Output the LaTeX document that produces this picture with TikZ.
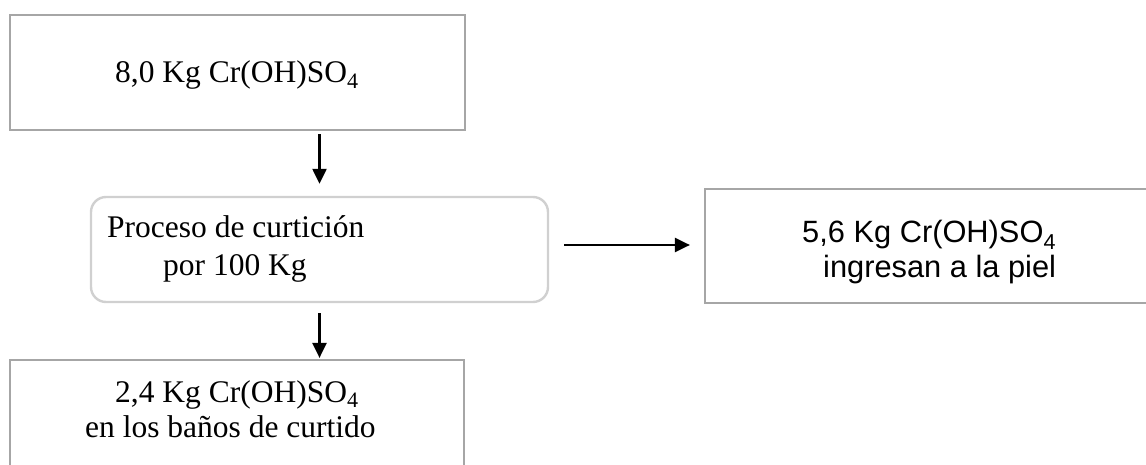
\documentclass[tikz,border=0pt]{standalone}
\usepackage{fontspec}
\setmainfont{Liberation Serif}
\newfontfamily\arialfont{Liberation Sans}
\usetikzlibrary{arrows.meta}
\definecolor{boxgray}{HTML}{A6A6A6}
\definecolor{softgray}{HTML}{D0D0D0}
\begin{document}
\begin{tikzpicture}[x=1pt,y=-1pt,
  plainbox/.style={draw=boxgray, line width=2.2pt, minimum width=#1, inner sep=0pt},
  roundbox/.style={draw=softgray, line width=2.4pt, rounded corners=15pt, minimum width=457pt, minimum height=105pt, inner sep=0pt},
  serif/.style={font=\fontsize{31.5}{36}\selectfont, inner sep=0pt},
  sans/.style={font=\arialfont\fontsize{30.8}{35}\selectfont, inner sep=0pt},
  flow/.style={line width=2.4pt, -{Triangle[length=15pt,width=14pt]}}
]
\useasboundingbox (0,0) rectangle (1146,465);
\begin{scope}
\clip (0,0) rectangle (1146,465);

% boxes
\node[plainbox=455pt, minimum height=115pt] (dose) at (237.5,72.5) {};
\node[roundbox] (proc) at (319.5,249.5) {};
\node[plainbox=455pt, minimum height=114pt] (skin) at (932.5,246) {};
\node[plainbox=454pt, minimum height=115pt] (bath) at (237,417.5) {};

% texts
\node[serif, anchor=base west] (doseA) at (115,83) {8,0 Kg Cr(OH)SO\textsubscript{4}};
\node[serif, anchor=base west] (procA) at (107,237) {Proceso de curtición};
\node[serif, anchor=base west] (procB) at (163,275) {por 100 Kg};
\node[sans, anchor=base west] (skinA) at (802,243) {5,6 Kg Cr(OH)SO\textsubscript{4}};
\node[sans, anchor=base west] (skinB) at (823,277) {ingresan a la piel};
\node[serif, anchor=base west] (bathA) at (115,402) {2,4 Kg Cr(OH)SO\textsubscript{4}};
\node[serif, anchor=base west] (bathB) at (85,437) {en los baños de curtido};

% connectors
\draw[flow, shorten <=3pt, shorten >=12pt] (proc.north |- dose.south) -- (proc.north);
\draw[flow, shorten <=10pt, shorten >=1pt] (proc.south) -- (proc.south |- bath.north);
\draw[flow, shorten <=15pt, shorten >=14pt] (proc.east |- 0,245) -- (skin.west |- 0,245);
\end{scope}
\end{tikzpicture}
\end{document}
